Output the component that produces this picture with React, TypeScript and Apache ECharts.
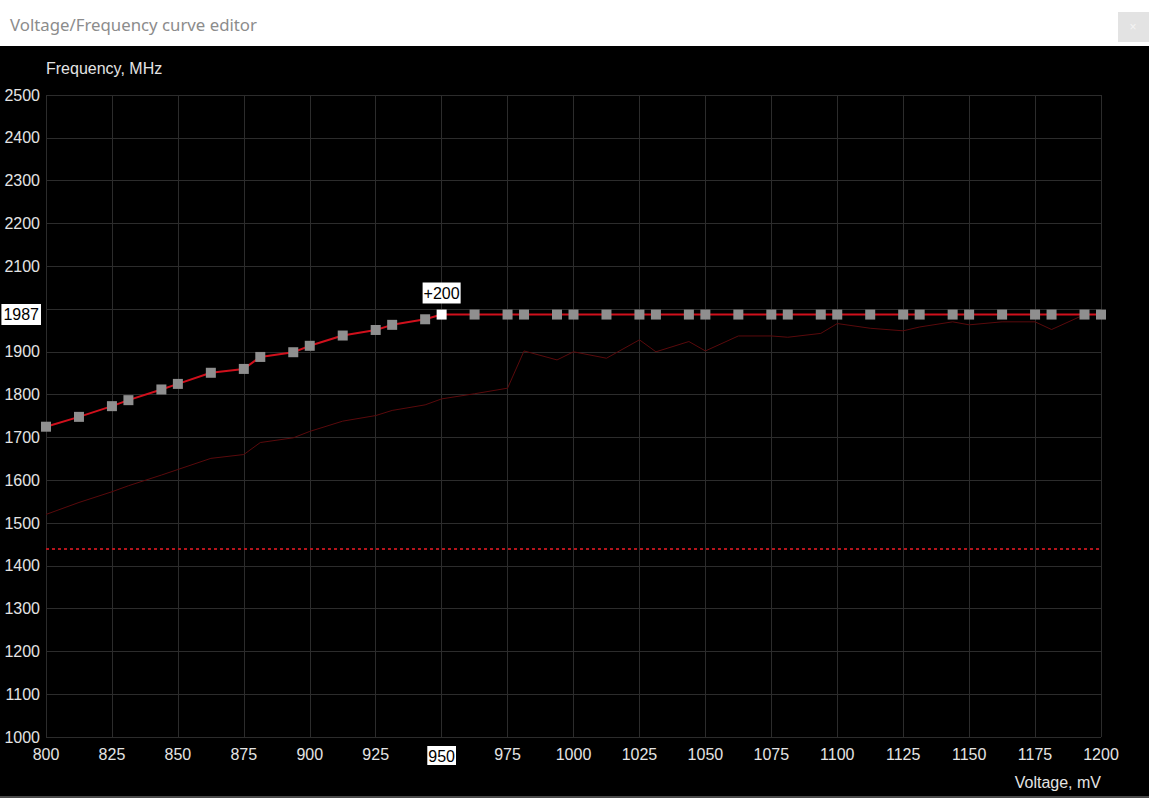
import React, { useEffect, useRef } from "react";
import * as echarts from "echarts";

// Voltage points of the curve (mV)
const voltages = [
  800, 812.5, 825, 831.25, 843.75, 850, 862.5, 875, 881.25, 893.75, 900, 912.5, 925, 931.25, 943.75,
  950, 962.5, 975, 981.25, 993.75, 1000, 1012.5, 1025, 1031.25, 1043.75, 1050, 1062.5, 1075, 1081.25,
  1093.75, 1100, 1112.5, 1125, 1131.25, 1143.75, 1150, 1162.5, 1175, 1181.25, 1193.75, 1200,
];
// Edited curve (MHz)
const curveMHz = [
  1725, 1748, 1773, 1787, 1812, 1825, 1851, 1860, 1888, 1899, 1914, 1938, 1951, 1963, 1976,
  1987, 1987, 1987, 1987, 1987, 1987, 1987, 1987, 1987, 1987, 1987, 1987, 1987, 1987,
  1987, 1987, 1987, 1987, 1987, 1987, 1987, 1987, 1987, 1987, 1987, 1987,
];
// Original (default) curve (MHz)
const baseMHz = [
  1520, 1548, 1573, 1587, 1612, 1625, 1651, 1660, 1688, 1699, 1714, 1738, 1751, 1763, 1776,
  1790, 1802, 1815, 1902, 1881, 1900, 1885, 1928, 1900, 1924, 1902, 1937, 1937, 1934,
  1943, 1966, 1955, 1949, 1958, 1970, 1963, 1970, 1970, 1952, 1987, 1987,
];
const selectedVoltage = 950;
const selectedFreq = 1987;
const selectedOffsetLabel = "+200";
const limitFreq = 1441;

const xTicks = { min: 800, max: 1200, step: 25 };
const yTicks = { min: 1000, max: 2500, step: 100 };

const titleText = "Voltage/Frequency curve editor";
const xAxisTitle = "Voltage, mV";
const yAxisTitle = "Frequency, MHz";

const FONT = "'Liberation Sans', Arial, sans-serif";
const LABEL_COLOR = "#e4e4e4";
const FS = 16;

export default function App() {
  const ref = useRef<HTMLDivElement>(null);

  useEffect(() => {
    if (!ref.current) return;
    const chart = echarts.init(ref.current, undefined, { renderer: "svg" });

    const curveData = voltages.map((v, i) => {
      if (v === selectedVoltage) {
        return {
          value: [v, curveMHz[i]],
          itemStyle: { color: "#ffffff" },
          label: {
            show: true,
            position: "top",
            distance: 6,
            formatter: selectedOffsetLabel,
            backgroundColor: "#ffffff",
            color: "#000000",
            fontFamily: FONT,
            fontSize: FS,
            padding: [3, 1, 2, 1],
          },
        };
      }
      return { value: [v, curveMHz[i]] };
    });
    const baseData = voltages.map((v, i) => [v, baseMHz[i]]);

    const option: any = {
      animation: false,
      backgroundColor: "#000000",
      grid: { left: 46, right: 48, top: 95, bottom: 61, containLabel: false },
      xAxis: {
        type: "value",
        min: xTicks.min,
        max: xTicks.max,
        interval: xTicks.step,
        axisLine: { show: false },
        axisTick: { show: false },
        splitLine: { show: true, lineStyle: { color: "#2c2c2c", width: 1 } },
        axisLabel: {
          color: LABEL_COLOR,
          fontFamily: FONT,
          fontSize: FS,
          margin: 9,
          formatter: (v: number) => (v === selectedVoltage ? `{sel|${v}}` : `${v}`),
          rich: {
            sel: {
              backgroundColor: "#ffffff",
              color: "#000000",
              fontFamily: FONT,
              fontSize: FS,
              padding: [2, 1, 1, 1],
            },
          },
        },
      },
      yAxis: {
        type: "value",
        min: yTicks.min,
        max: yTicks.max,
        interval: yTicks.step,
        axisLine: { show: false },
        axisTick: { show: false },
        splitLine: { show: true, lineStyle: { color: "#2c2c2c", width: 1 } },
        axisLabel: {
          color: LABEL_COLOR,
          fontFamily: FONT,
          fontSize: FS,
          margin: 6,
          formatter: (v: number) => (Math.abs(v - selectedFreq) < 50 ? "" : `${v}`),
        },
      },
      series: [
        {
          type: "line",
          name: "default",
          data: baseData,
          showSymbol: false,
          symbol: "none",
          lineStyle: { color: "#5a0a0c", width: 1 },
          z: 2,
          silent: true,
        },
        {
          type: "line",
          name: "curve",
          data: curveData,
          symbol: "rect",
          symbolSize: 10,
          itemStyle: { color: "#8f8f8f" },
          lineStyle: { color: "#d0101c", width: 2 },
          z: 5,
          markLine: {
            silent: true,
            symbol: "none",
            data: [
              {
                yAxis: limitFreq,
                lineStyle: { color: "#b4141c", width: 2, type: [3, 3] },
                label: { show: false },
              },
              {
                yAxis: selectedFreq,
                lineStyle: { color: "rgba(0,0,0,0)", width: 0 },
                label: {
                  show: true,
                  position: "start",
                  distance: 5,
                  formatter: `${selectedFreq}`,
                  backgroundColor: "#ffffff",
                  color: "#000000",
                  fontFamily: FONT,
                  fontSize: FS,
                  padding: [3, 2, 2, 2],
                },
              },
            ],
          },
        },
      ],
      graphic: [
        { type: "rect", shape: { x: 0, y: 0, width: 1149, height: 46 }, style: { fill: "#ffffff" }, silent: true },
        {
          type: "text",
          x: 10,
          y: 24,
          style: {
            text: titleText,
            fill: "#8c8c8c",
            fontSize: 16.8,
            fontFamily: "'Noto Sans', 'Open Sans', sans-serif",
            verticalAlign: "middle",
            align: "left",
          },
        },
        { type: "rect", shape: { x: 1118, y: 12, width: 31, height: 30 }, style: { fill: "#e3e3e3" } },
        {
          type: "text",
          x: 1133,
          y: 27,
          style: { text: "×", fill: "#f4f4f4", fontSize: 12, fontFamily: FONT, align: "center", verticalAlign: "middle" },
        },
        { type: "rect", shape: { x: 0, y: 796, width: 1149, height: 2 }, style: { fill: "#4a4a4a" } },
        {
          type: "text",
          x: 46,
          y: 68,
          style: {
            text: yAxisTitle,
            fill: LABEL_COLOR,
            fontSize: FS,
            fontFamily: FONT,
            align: "left",
            verticalAlign: "middle",
          },
        },
        {
          type: "text",
          x: 1101,
          y: 782,
          style: {
            text: xAxisTitle,
            fill: LABEL_COLOR,
            fontSize: FS,
            fontFamily: FONT,
            align: "right",
            verticalAlign: "middle",
          },
        },
      ],
    };

    chart.setOption(option);
    return () => chart.dispose();
  }, []);

  return (
    <div
      ref={ref}
      style={{ position: "absolute", left: 0, top: 0, width: 1149, height: 798 }}
    />
  );
}
